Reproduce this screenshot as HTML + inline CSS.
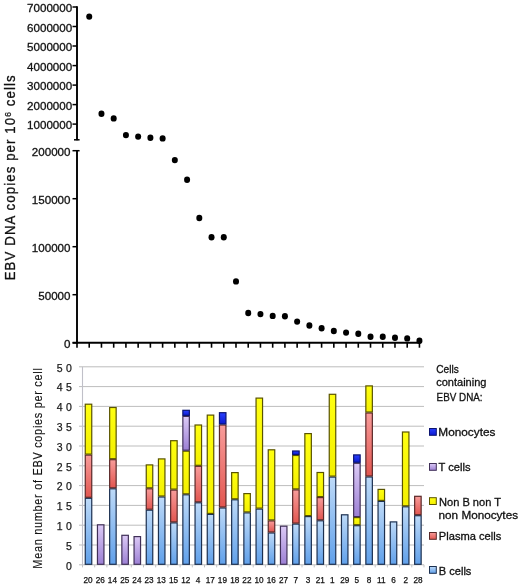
<!DOCTYPE html><html><head><meta charset="utf-8"><style>html,body{margin:0;padding:0;background:#fff;}svg{display:block;will-change:transform;}text{font-family:"Liberation Sans", sans-serif;}</style></head><body>
<svg width="520" height="587" viewBox="0 0 520 587">
<defs>
<linearGradient id="gB" x1="0" y1="0" x2="0" y2="1"><stop offset="0" stop-color="#bedaf8"/><stop offset="1" stop-color="#60a0ea"/></linearGradient>
<linearGradient id="gP" x1="0" y1="0" x2="0" y2="1"><stop offset="0" stop-color="#f89c9a"/><stop offset="1" stop-color="#e25650"/></linearGradient>
<linearGradient id="gY" x1="0" y1="0" x2="0" y2="1"><stop offset="0" stop-color="#ffff10"/><stop offset="1" stop-color="#f4f000"/></linearGradient>
<linearGradient id="gT" x1="0" y1="0" x2="0" y2="1"><stop offset="0" stop-color="#dccaf6"/><stop offset="1" stop-color="#9c80d4"/></linearGradient>
<linearGradient id="gM" x1="0" y1="0" x2="0" y2="1"><stop offset="0" stop-color="#2a40ff"/><stop offset="1" stop-color="#0c1ad0"/></linearGradient>
</defs>
<text transform="translate(15.3,177.8) rotate(-90) scale(0.88,1)" text-anchor="middle" font-size="15" fill="#111" stroke="#111" stroke-width="0.3" textLength="233.0" lengthAdjust="spacing">EBV DNA copies per 10<tspan dy="-4.2" font-size="9.5">6</tspan><tspan dy="4.2"> cells</tspan></text>
<g stroke="#000" stroke-width="1.9" fill="none">
<line x1="77.0" y1="6.3" x2="77.0" y2="140.2"/>
<line x1="74" y1="139.8" x2="79.6" y2="139.8" stroke-width="1.5"/>
<line x1="72.5" y1="7.0" x2="77.0" y2="7.0" stroke-width="1.5"/>
<line x1="72.5" y1="26.5" x2="77.0" y2="26.5" stroke-width="1.5"/>
<line x1="72.5" y1="46.0" x2="77.0" y2="46.0" stroke-width="1.5"/>
<line x1="72.5" y1="65.6" x2="77.0" y2="65.6" stroke-width="1.5"/>
<line x1="72.5" y1="85.1" x2="77.0" y2="85.1" stroke-width="1.5"/>
<line x1="72.5" y1="104.6" x2="77.0" y2="104.6" stroke-width="1.5"/>
<line x1="72.5" y1="124.1" x2="77.0" y2="124.1" stroke-width="1.5"/>
<line x1="77.0" y1="150.0" x2="77.0" y2="343.7"/>
<line x1="72.5" y1="150.7" x2="79.6" y2="150.7" stroke-width="1.5"/>
<line x1="72.5" y1="198.7" x2="77.0" y2="198.7" stroke-width="1.5"/>
<line x1="72.5" y1="246.7" x2="77.0" y2="246.7" stroke-width="1.5"/>
<line x1="72.5" y1="294.7" x2="77.0" y2="294.7" stroke-width="1.5"/>
<line x1="72.5" y1="342.8" x2="77.0" y2="342.8" stroke-width="1.5"/>
<line x1="72.6" y1="342.8" x2="420.4" y2="342.8"/>
<line x1="77.00" y1="342.8" x2="77.00" y2="347.7" stroke-width="1.6"/>
<line x1="89.23" y1="342.8" x2="89.23" y2="347.7" stroke-width="1.6"/>
<line x1="101.46" y1="342.8" x2="101.46" y2="347.7" stroke-width="1.6"/>
<line x1="113.69" y1="342.8" x2="113.69" y2="347.7" stroke-width="1.6"/>
<line x1="125.92" y1="342.8" x2="125.92" y2="347.7" stroke-width="1.6"/>
<line x1="138.15" y1="342.8" x2="138.15" y2="347.7" stroke-width="1.6"/>
<line x1="150.38" y1="342.8" x2="150.38" y2="347.7" stroke-width="1.6"/>
<line x1="162.61" y1="342.8" x2="162.61" y2="347.7" stroke-width="1.6"/>
<line x1="174.84" y1="342.8" x2="174.84" y2="347.7" stroke-width="1.6"/>
<line x1="187.07" y1="342.8" x2="187.07" y2="347.7" stroke-width="1.6"/>
<line x1="199.30" y1="342.8" x2="199.30" y2="347.7" stroke-width="1.6"/>
<line x1="211.53" y1="342.8" x2="211.53" y2="347.7" stroke-width="1.6"/>
<line x1="223.76" y1="342.8" x2="223.76" y2="347.7" stroke-width="1.6"/>
<line x1="235.99" y1="342.8" x2="235.99" y2="347.7" stroke-width="1.6"/>
<line x1="248.22" y1="342.8" x2="248.22" y2="347.7" stroke-width="1.6"/>
<line x1="260.45" y1="342.8" x2="260.45" y2="347.7" stroke-width="1.6"/>
<line x1="272.68" y1="342.8" x2="272.68" y2="347.7" stroke-width="1.6"/>
<line x1="284.91" y1="342.8" x2="284.91" y2="347.7" stroke-width="1.6"/>
<line x1="297.14" y1="342.8" x2="297.14" y2="347.7" stroke-width="1.6"/>
<line x1="309.37" y1="342.8" x2="309.37" y2="347.7" stroke-width="1.6"/>
<line x1="321.60" y1="342.8" x2="321.60" y2="347.7" stroke-width="1.6"/>
<line x1="333.83" y1="342.8" x2="333.83" y2="347.7" stroke-width="1.6"/>
<line x1="346.06" y1="342.8" x2="346.06" y2="347.7" stroke-width="1.6"/>
<line x1="358.29" y1="342.8" x2="358.29" y2="347.7" stroke-width="1.6"/>
<line x1="370.52" y1="342.8" x2="370.52" y2="347.7" stroke-width="1.6"/>
<line x1="382.75" y1="342.8" x2="382.75" y2="347.7" stroke-width="1.6"/>
<line x1="394.98" y1="342.8" x2="394.98" y2="347.7" stroke-width="1.6"/>
<line x1="407.21" y1="342.8" x2="407.21" y2="347.7" stroke-width="1.6"/>
<line x1="419.44" y1="342.8" x2="419.44" y2="347.7" stroke-width="1.6"/>
</g>
<g font-size="11.6" fill="#111" stroke="#111" stroke-width="0.3" text-anchor="end">
<text x="72.2" y="12.2">7000000</text>
<text x="72.2" y="31.7">6000000</text>
<text x="72.2" y="51.2">5000000</text>
<text x="72.2" y="70.8">4000000</text>
<text x="72.2" y="90.3">3000000</text>
<text x="72.2" y="109.8">2000000</text>
<text x="72.2" y="129.3">1000000</text>
<text x="70.5" y="155.8">200000</text>
<text x="70.5" y="203.8">150000</text>
<text x="70.5" y="251.8">100000</text>
<text x="70.5" y="299.8">50000</text>
<text x="70.5" y="347.9">0</text>
</g>
<g fill="#000">
<ellipse cx="89.23" cy="16.6" rx="3.0" ry="3.2"/>
<ellipse cx="101.46" cy="113.8" rx="3.0" ry="3.2"/>
<ellipse cx="113.69" cy="118.39999999999999" rx="3.0" ry="3.2"/>
<ellipse cx="125.92" cy="135.1" rx="3.0" ry="3.2"/>
<ellipse cx="138.15" cy="136.6" rx="3.0" ry="3.2"/>
<ellipse cx="150.38" cy="137.79999999999998" rx="3.0" ry="3.2"/>
<ellipse cx="162.61" cy="138.4" rx="3.0" ry="3.2"/>
<ellipse cx="174.84" cy="160.1" rx="3.0" ry="3.2"/>
<ellipse cx="187.07" cy="179.7" rx="3.0" ry="3.2"/>
<ellipse cx="199.30" cy="218.0" rx="3.0" ry="3.2"/>
<ellipse cx="211.53" cy="237.2" rx="3.0" ry="3.2"/>
<ellipse cx="223.76" cy="237.2" rx="3.0" ry="3.2"/>
<ellipse cx="235.99" cy="281.40000000000003" rx="3.0" ry="3.2"/>
<ellipse cx="248.22" cy="313.0" rx="3.0" ry="3.2"/>
<ellipse cx="260.45" cy="314.1" rx="3.0" ry="3.2"/>
<ellipse cx="272.68" cy="315.90000000000003" rx="3.0" ry="3.2"/>
<ellipse cx="284.91" cy="316.3" rx="3.0" ry="3.2"/>
<ellipse cx="297.14" cy="321.6" rx="3.0" ry="3.2"/>
<ellipse cx="309.37" cy="325.5" rx="3.0" ry="3.2"/>
<ellipse cx="321.60" cy="328.3" rx="3.0" ry="3.2"/>
<ellipse cx="333.83" cy="331.0" rx="3.0" ry="3.2"/>
<ellipse cx="346.06" cy="332.6" rx="3.0" ry="3.2"/>
<ellipse cx="358.29" cy="333.8" rx="3.0" ry="3.2"/>
<ellipse cx="370.52" cy="336.8" rx="3.0" ry="3.2"/>
<ellipse cx="382.75" cy="336.8" rx="3.0" ry="3.2"/>
<ellipse cx="394.98" cy="337.70000000000005" rx="3.0" ry="3.2"/>
<ellipse cx="407.21" cy="338.40000000000003" rx="3.0" ry="3.2"/>
<ellipse cx="419.44" cy="340.70000000000005" rx="3.0" ry="3.2"/>
</g>
<g stroke="#bdbdbd" stroke-width="1">
<line x1="79" y1="564.8" x2="424.0" y2="564.8"/>
<line x1="79" y1="545.0" x2="424.0" y2="545.0"/>
<line x1="79" y1="525.2" x2="424.0" y2="525.2"/>
<line x1="79" y1="505.4" x2="424.0" y2="505.4"/>
<line x1="79" y1="485.6" x2="424.0" y2="485.6"/>
<line x1="79" y1="465.8" x2="424.0" y2="465.8"/>
<line x1="79" y1="446.0" x2="424.0" y2="446.0"/>
<line x1="79" y1="426.2" x2="424.0" y2="426.2"/>
<line x1="79" y1="406.4" x2="424.0" y2="406.4"/>
<line x1="79" y1="386.6" x2="424.0" y2="386.6"/>
<line x1="79" y1="366.8" x2="424.0" y2="366.8"/>
</g>
<g stroke="#c4c4c4" stroke-width="1">
<line x1="82.5" y1="564.8" x2="82.5" y2="567.4"/>
<line x1="94.7" y1="564.8" x2="94.7" y2="567.4"/>
<line x1="106.9" y1="564.8" x2="106.9" y2="567.4"/>
<line x1="119.1" y1="564.8" x2="119.1" y2="567.4"/>
<line x1="131.3" y1="564.8" x2="131.3" y2="567.4"/>
<line x1="143.5" y1="564.8" x2="143.5" y2="567.4"/>
<line x1="155.7" y1="564.8" x2="155.7" y2="567.4"/>
<line x1="167.9" y1="564.8" x2="167.9" y2="567.4"/>
<line x1="180.1" y1="564.8" x2="180.1" y2="567.4"/>
<line x1="192.3" y1="564.8" x2="192.3" y2="567.4"/>
<line x1="204.5" y1="564.8" x2="204.5" y2="567.4"/>
<line x1="216.7" y1="564.8" x2="216.7" y2="567.4"/>
<line x1="228.9" y1="564.8" x2="228.9" y2="567.4"/>
<line x1="241.1" y1="564.8" x2="241.1" y2="567.4"/>
<line x1="253.2" y1="564.8" x2="253.2" y2="567.4"/>
<line x1="265.4" y1="564.8" x2="265.4" y2="567.4"/>
<line x1="277.6" y1="564.8" x2="277.6" y2="567.4"/>
<line x1="289.8" y1="564.8" x2="289.8" y2="567.4"/>
<line x1="302.0" y1="564.8" x2="302.0" y2="567.4"/>
<line x1="314.2" y1="564.8" x2="314.2" y2="567.4"/>
<line x1="326.4" y1="564.8" x2="326.4" y2="567.4"/>
<line x1="338.6" y1="564.8" x2="338.6" y2="567.4"/>
<line x1="350.8" y1="564.8" x2="350.8" y2="567.4"/>
<line x1="363.0" y1="564.8" x2="363.0" y2="567.4"/>
<line x1="375.2" y1="564.8" x2="375.2" y2="567.4"/>
<line x1="387.4" y1="564.8" x2="387.4" y2="567.4"/>
<line x1="399.6" y1="564.8" x2="399.6" y2="567.4"/>
<line x1="411.8" y1="564.8" x2="411.8" y2="567.4"/>
<line x1="424.0" y1="564.8" x2="424.0" y2="567.4"/>
</g>
<line x1="82.5" y1="366.79999999999995" x2="82.5" y2="565.3" stroke="#c0c0c8" stroke-width="1.1"/>
<g font-size="10.5" fill="#1a1a1a" stroke="#1a1a1a" stroke-width="0.25" text-anchor="end" letter-spacing="3.4">
<text x="75.3" y="569.6">0</text>
<text x="75.3" y="549.8">5</text>
<text x="75.3" y="530.0">10</text>
<text x="75.3" y="510.2">15</text>
<text x="75.3" y="490.4">20</text>
<text x="75.3" y="470.6">25</text>
<text x="75.3" y="450.8">30</text>
<text x="75.3" y="431.0">35</text>
<text x="75.3" y="411.2">40</text>
<text x="75.3" y="391.4">45</text>
<text x="75.3" y="371.6">50</text>
</g>
<rect x="85.25" y="498.30" width="6.50" height="66.00" fill="url(#gB)" stroke="#1c3050" stroke-width="1.2"/>
<rect x="85.25" y="455.10" width="6.50" height="42.20" fill="url(#gP)" stroke="#5a2828" stroke-width="1.2"/>
<rect x="85.25" y="404.20" width="6.50" height="49.90" fill="url(#gY)" stroke="#5a5400" stroke-width="1.2"/>
<rect x="97.45" y="524.80" width="6.50" height="39.50" fill="url(#gT)" stroke="#403058" stroke-width="1.2"/>
<rect x="109.65" y="488.80" width="6.50" height="75.50" fill="url(#gB)" stroke="#1c3050" stroke-width="1.2"/>
<rect x="109.65" y="459.70" width="6.50" height="28.10" fill="url(#gP)" stroke="#5a2828" stroke-width="1.2"/>
<rect x="109.65" y="407.50" width="6.50" height="51.20" fill="url(#gY)" stroke="#5a5400" stroke-width="1.2"/>
<rect x="121.85" y="535.30" width="6.50" height="29.00" fill="url(#gT)" stroke="#403058" stroke-width="1.2"/>
<rect x="134.05" y="536.60" width="6.50" height="27.70" fill="url(#gT)" stroke="#403058" stroke-width="1.2"/>
<rect x="146.25" y="510.20" width="6.50" height="54.10" fill="url(#gB)" stroke="#1c3050" stroke-width="1.2"/>
<rect x="146.25" y="488.80" width="6.50" height="20.40" fill="url(#gP)" stroke="#5a2828" stroke-width="1.2"/>
<rect x="146.25" y="464.90" width="6.50" height="22.90" fill="url(#gY)" stroke="#5a5400" stroke-width="1.2"/>
<rect x="158.45" y="497.00" width="6.50" height="67.30" fill="url(#gB)" stroke="#1c3050" stroke-width="1.2"/>
<rect x="158.45" y="458.90" width="6.50" height="37.10" fill="url(#gY)" stroke="#5a5400" stroke-width="1.2"/>
<rect x="170.65" y="522.90" width="6.50" height="41.40" fill="url(#gB)" stroke="#1c3050" stroke-width="1.2"/>
<rect x="170.65" y="490.10" width="6.50" height="31.80" fill="url(#gP)" stroke="#5a2828" stroke-width="1.2"/>
<rect x="170.65" y="440.70" width="6.50" height="48.40" fill="url(#gY)" stroke="#5a5400" stroke-width="1.2"/>
<rect x="182.85" y="494.80" width="6.50" height="69.50" fill="url(#gB)" stroke="#1c3050" stroke-width="1.2"/>
<rect x="182.85" y="451.20" width="6.50" height="42.60" fill="url(#gY)" stroke="#5a5400" stroke-width="1.2"/>
<rect x="182.85" y="416.40" width="6.50" height="33.80" fill="url(#gT)" stroke="#403058" stroke-width="1.2"/>
<rect x="182.85" y="410.30" width="6.50" height="5.10" fill="url(#gM)" stroke="#0c1470" stroke-width="1.2"/>
<rect x="195.05" y="502.80" width="6.50" height="61.50" fill="url(#gB)" stroke="#1c3050" stroke-width="1.2"/>
<rect x="195.05" y="466.30" width="6.50" height="35.50" fill="url(#gP)" stroke="#5a2828" stroke-width="1.2"/>
<rect x="195.05" y="425.00" width="6.50" height="40.30" fill="url(#gY)" stroke="#5a5400" stroke-width="1.2"/>
<rect x="207.25" y="514.40" width="6.50" height="49.90" fill="url(#gB)" stroke="#1c3050" stroke-width="1.2"/>
<rect x="207.25" y="415.10" width="6.50" height="98.30" fill="url(#gY)" stroke="#5a5400" stroke-width="1.2"/>
<rect x="219.45" y="508.00" width="6.50" height="56.30" fill="url(#gB)" stroke="#1c3050" stroke-width="1.2"/>
<rect x="219.45" y="425.00" width="6.50" height="82.00" fill="url(#gP)" stroke="#5a2828" stroke-width="1.2"/>
<rect x="219.45" y="412.70" width="6.50" height="11.30" fill="url(#gM)" stroke="#0c1470" stroke-width="1.2"/>
<rect x="231.65" y="499.80" width="6.50" height="64.50" fill="url(#gB)" stroke="#1c3050" stroke-width="1.2"/>
<rect x="231.65" y="472.60" width="6.50" height="26.20" fill="url(#gY)" stroke="#5a5400" stroke-width="1.2"/>
<rect x="243.85" y="512.90" width="6.50" height="51.40" fill="url(#gB)" stroke="#1c3050" stroke-width="1.2"/>
<rect x="243.85" y="493.60" width="6.50" height="18.30" fill="url(#gY)" stroke="#5a5400" stroke-width="1.2"/>
<rect x="256.05" y="509.10" width="6.50" height="55.20" fill="url(#gB)" stroke="#1c3050" stroke-width="1.2"/>
<rect x="256.05" y="398.10" width="6.50" height="110.00" fill="url(#gY)" stroke="#5a5400" stroke-width="1.2"/>
<rect x="268.25" y="533.00" width="6.50" height="31.30" fill="url(#gB)" stroke="#1c3050" stroke-width="1.2"/>
<rect x="268.25" y="520.90" width="6.50" height="11.10" fill="url(#gP)" stroke="#5a2828" stroke-width="1.2"/>
<rect x="268.25" y="449.80" width="6.50" height="70.10" fill="url(#gY)" stroke="#5a5400" stroke-width="1.2"/>
<rect x="280.45" y="526.20" width="6.50" height="38.10" fill="url(#gT)" stroke="#403058" stroke-width="1.2"/>
<rect x="292.65" y="524.10" width="6.50" height="40.20" fill="url(#gB)" stroke="#1c3050" stroke-width="1.2"/>
<rect x="292.65" y="489.90" width="6.50" height="33.20" fill="url(#gP)" stroke="#5a2828" stroke-width="1.2"/>
<rect x="292.65" y="455.50" width="6.50" height="33.40" fill="url(#gY)" stroke="#5a5400" stroke-width="1.2"/>
<rect x="292.65" y="451.00" width="6.50" height="3.50" fill="url(#gM)" stroke="#0c1470" stroke-width="1.2"/>
<rect x="304.85" y="516.60" width="6.50" height="47.70" fill="url(#gB)" stroke="#1c3050" stroke-width="1.2"/>
<rect x="304.85" y="433.60" width="6.50" height="82.00" fill="url(#gY)" stroke="#5a5400" stroke-width="1.2"/>
<rect x="317.05" y="520.80" width="6.50" height="43.50" fill="url(#gB)" stroke="#1c3050" stroke-width="1.2"/>
<rect x="317.05" y="497.60" width="6.50" height="22.20" fill="url(#gP)" stroke="#5a2828" stroke-width="1.2"/>
<rect x="317.05" y="472.50" width="6.50" height="24.10" fill="url(#gY)" stroke="#5a5400" stroke-width="1.2"/>
<rect x="329.25" y="477.10" width="6.50" height="87.20" fill="url(#gB)" stroke="#1c3050" stroke-width="1.2"/>
<rect x="329.25" y="394.30" width="6.50" height="81.80" fill="url(#gY)" stroke="#5a5400" stroke-width="1.2"/>
<rect x="341.45" y="514.80" width="6.50" height="49.50" fill="url(#gB)" stroke="#1c3050" stroke-width="1.2"/>
<rect x="353.65" y="525.70" width="6.50" height="38.60" fill="url(#gB)" stroke="#1c3050" stroke-width="1.2"/>
<rect x="353.65" y="517.60" width="6.50" height="7.10" fill="url(#gY)" stroke="#5a5400" stroke-width="1.2"/>
<rect x="353.65" y="463.30" width="6.50" height="53.30" fill="url(#gT)" stroke="#403058" stroke-width="1.2"/>
<rect x="353.65" y="454.90" width="6.50" height="7.40" fill="url(#gM)" stroke="#0c1470" stroke-width="1.2"/>
<rect x="365.85" y="477.00" width="6.50" height="87.30" fill="url(#gB)" stroke="#1c3050" stroke-width="1.2"/>
<rect x="365.85" y="413.00" width="6.50" height="63.00" fill="url(#gP)" stroke="#5a2828" stroke-width="1.2"/>
<rect x="365.85" y="385.90" width="6.50" height="26.10" fill="url(#gY)" stroke="#5a5400" stroke-width="1.2"/>
<rect x="378.05" y="501.40" width="6.50" height="62.90" fill="url(#gB)" stroke="#1c3050" stroke-width="1.2"/>
<rect x="378.05" y="489.40" width="6.50" height="11.00" fill="url(#gY)" stroke="#5a5400" stroke-width="1.2"/>
<rect x="390.25" y="521.90" width="6.50" height="42.40" fill="url(#gB)" stroke="#1c3050" stroke-width="1.2"/>
<rect x="402.45" y="506.80" width="6.50" height="57.50" fill="url(#gB)" stroke="#1c3050" stroke-width="1.2"/>
<rect x="402.45" y="432.00" width="6.50" height="73.80" fill="url(#gY)" stroke="#5a5400" stroke-width="1.2"/>
<rect x="414.65" y="515.70" width="6.50" height="48.60" fill="url(#gB)" stroke="#1c3050" stroke-width="1.2"/>
<rect x="414.65" y="496.30" width="6.50" height="18.40" fill="url(#gP)" stroke="#5a2828" stroke-width="1.2"/>
<g font-size="8.2" fill="#111" stroke="#111" stroke-width="0.25" text-anchor="middle">
<text x="88.0" y="583.2">20</text>
<text x="100.2" y="583.2">26</text>
<text x="112.4" y="583.2">14</text>
<text x="124.7" y="583.2">25</text>
<text x="136.9" y="583.2">24</text>
<text x="149.1" y="583.2">23</text>
<text x="161.3" y="583.2">13</text>
<text x="173.6" y="583.2">15</text>
<text x="185.8" y="583.2">12</text>
<text x="198.0" y="583.2">4</text>
<text x="210.2" y="583.2">17</text>
<text x="222.4" y="583.2">19</text>
<text x="234.7" y="583.2">18</text>
<text x="246.9" y="583.2">22</text>
<text x="259.1" y="583.2">10</text>
<text x="271.3" y="583.2">16</text>
<text x="283.6" y="583.2">27</text>
<text x="295.8" y="583.2">7</text>
<text x="308.0" y="583.2">3</text>
<text x="320.2" y="583.2">21</text>
<text x="332.4" y="583.2">1</text>
<text x="344.7" y="583.2">29</text>
<text x="356.9" y="583.2">5</text>
<text x="369.1" y="583.2">8</text>
<text x="381.3" y="583.2">11</text>
<text x="393.6" y="583.2">6</text>
<text x="405.8" y="583.2">2</text>
<text x="418.0" y="583.2">28</text>
</g>
<text transform="translate(41.9,468.4) rotate(-90) scale(0.88,1)" text-anchor="middle" font-size="12.4" fill="#111" stroke="#111" stroke-width="0.12" textLength="227.8" lengthAdjust="spacing">Mean number of EBV copies per cell</text>
<g font-size="11" fill="#111" stroke="#111" stroke-width="0.3">
<text transform="translate(436.2,372.7) scale(1.0,1)" textLength="22.5" lengthAdjust="spacingAndGlyphs">Cells</text>
<text transform="translate(436.2,386.4) scale(1.0,1)" textLength="50.2" lengthAdjust="spacingAndGlyphs">containing</text>
<text transform="translate(436.6,400.8) scale(1.0,1)" textLength="46.0" lengthAdjust="spacingAndGlyphs">EBV DNA:</text>
<rect x="429.5" y="428.5" width="6.8" height="6.8" fill="url(#gM)" stroke="#0c1470" stroke-width="1" stroke-opacity="1"/>
<text transform="translate(438.3,436.4) scale(1.0,1)" textLength="57.1" lengthAdjust="spacingAndGlyphs">Monocytes</text>
<rect x="429.5" y="463.5" width="6.8" height="6.8" fill="url(#gT)" stroke="#403058" stroke-width="1" stroke-opacity="1"/>
<text transform="translate(438.6,471.2) scale(1.0,1)" textLength="32.0" lengthAdjust="spacingAndGlyphs">T cells</text>
<rect x="429.5" y="497.7" width="6.8" height="6.8" fill="url(#gY)" stroke="#5a5400" stroke-width="1" stroke-opacity="1"/>
<text transform="translate(439.0,505.9) scale(1.0,1)" textLength="62.0" lengthAdjust="spacingAndGlyphs">Non B non T</text>
<text transform="translate(438.6,518.9) scale(1.0,1)" textLength="79.4" lengthAdjust="spacingAndGlyphs">non Monocytes</text>
<rect x="429.5" y="532.5" width="6.8" height="6.8" fill="url(#gP)" stroke="#5a2828" stroke-width="1" stroke-opacity="1"/>
<text transform="translate(438.8,540.3) scale(1.0,1)" textLength="62.5" lengthAdjust="spacingAndGlyphs">Plasma cells</text>
<rect x="429.5" y="566.5" width="6.8" height="6.8" fill="url(#gB)" stroke="#1c3050" stroke-width="1" stroke-opacity="1"/>
<text transform="translate(438.8,574.6) scale(1.0,1)" textLength="32.6" lengthAdjust="spacingAndGlyphs">B cells</text>
</g>
</svg></body></html>
